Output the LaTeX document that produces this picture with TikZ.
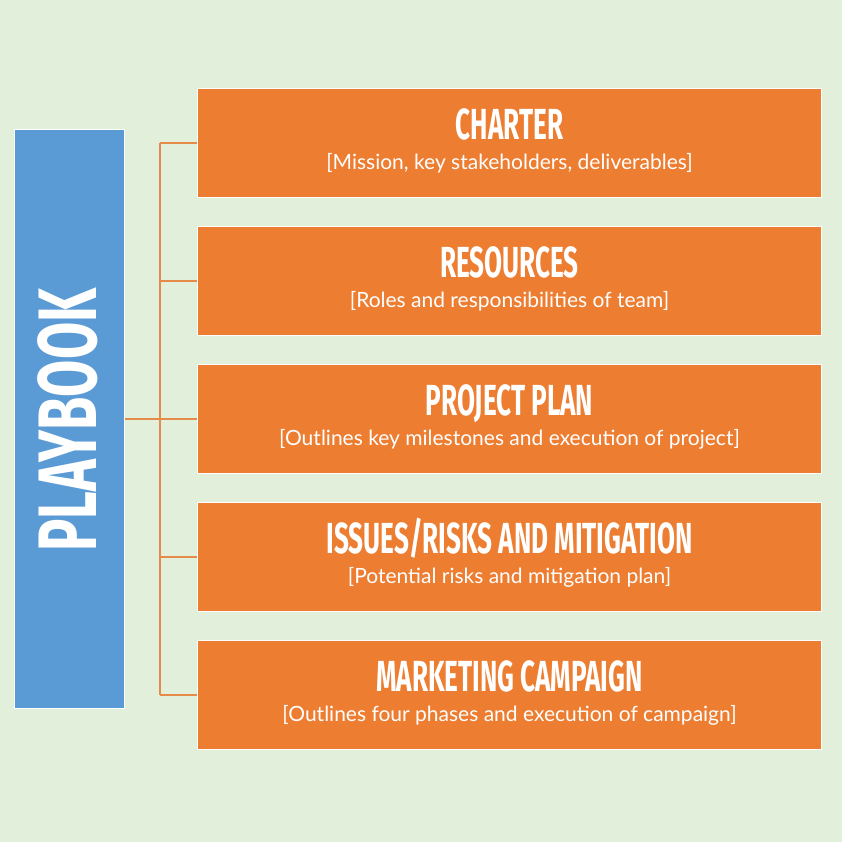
\documentclass[tikz,border=0pt]{standalone}
\usepackage{fontspec}
\setmainfont{Lato}
\newfontfamily\titlefont[FakeStretch=0.6]{Fira Sans}
\newfontfamily\sidefont[FakeStretch=0.65]{Fira Sans}
\newfontfamily\subfont{Lato}
\definecolor{bgcol}{HTML}{E2EFDA}
\definecolor{bluecol}{HTML}{5B9BD5}
\definecolor{orangecol}{HTML}{ED7D31}
\definecolor{linkcol}{HTML}{E48B4A}
\tikzset{
  leftbox/.style={fill=bluecol, draw=white, line width=1bp, minimum width=109bp, minimum height=578bp, inner sep=0pt},
  itembox/.style={fill=orangecol, draw=white, line width=1bp, minimum width=623bp, minimum height=109bp, inner sep=0pt},
  titletext/.style={text=white, anchor=base, inner sep=0pt, font=\titlefont\bfseries\fontsize{43.5bp}{50bp}\selectfont},
  subtext/.style={text=white, anchor=base, inner sep=0pt, font=\subfont\fontsize{21bp}{25bp}\selectfont},
  link/.style={draw=linkcol, line width=1.2bp}
}
\begin{document}
\begin{tikzpicture}[x=1bp, y=-1bp]
  \fill[bgcol] (0,0) rectangle (842,842);
  \useasboundingbox (0,0) rectangle (842,842);

  % left column
  \node[leftbox] (pb) at (69.5,419) {};
  \node[text=white, rotate=90, inner sep=0pt,
        font=\sidefont\bfseries\fontsize{83bp}{90bp}\selectfont] (pbt) at (68,420) {PLAYBOOK};

  % item boxes
  \node[itembox] (b1) at (509.5,143) {};
  \node[itembox] (b2) at (509.5,281) {};
  \node[itembox] (b3) at (509.5,419) {};
  \node[itembox] (b4) at (509.5,557) {};
  \node[itembox] (b5) at (509.5,695) {};

  \node[titletext] (t1) at ([yshift=4bp]b1.center) {CHARTER};
  \node[subtext]   (s1) at ([yshift=-26bp]b1.center) {[Mission, key stakeholders, deliverables]};
  \node[titletext] (t2) at ([yshift=4bp]b2.center) {RESOURCES};
  \node[subtext]   (s2) at ([yshift=-26bp]b2.center) {[Roles and responsibilities of team]};
  \node[titletext] (t3) at ([yshift=4bp]b3.center) {PROJECT PLAN};
  \node[subtext]   (s3) at ([yshift=-26bp]b3.center) {[Outlines key milestones and execution of project]};
  \node[titletext] (t4) at ([yshift=4bp]b4.center) {ISSUES/RISKS AND MITIGATION};
  \node[subtext]   (s4) at ([yshift=-26bp]b4.center) {[Potential risks and mitigation plan]};
  \node[titletext] (t5) at ([yshift=4bp]b5.center) {MARKETING CAMPAIGN};
  \node[subtext]   (s5) at ([yshift=-26bp]b5.center) {[Outlines four phases and execution of campaign]};

  % connectors
  \coordinate (hub) at (160,419);
  \draw[link] (pb.east) -- (hub);
  \draw[link] (hub |- b1.west) -- (hub |- b5.west);
  \foreach \i in {1,...,5} {
    \draw[link] (hub |- b\i.west) -- (b\i.west);
  }
\end{tikzpicture}
\end{document}
